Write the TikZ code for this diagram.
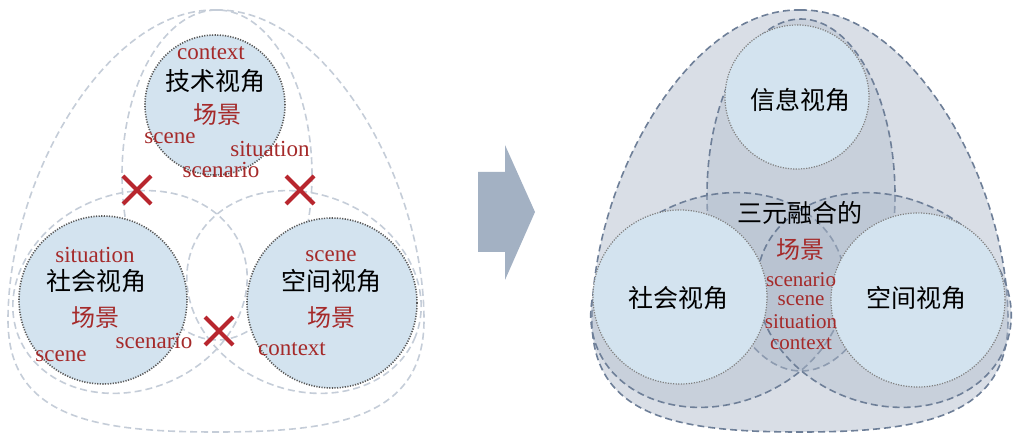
\documentclass[tikz,border=0pt]{standalone}
\usepackage{fontspec}
\setmainfont{Liberation Serif}
\newfontfamily\cjk{Noto Sans CJK SC}
\usetikzlibrary{positioning,calc}
\definecolor{circfill}{HTML}{D3E3EF}
\definecolor{dashgray}{HTML}{C5CDD8}
\definecolor{dashblue}{HTML}{6E7F98}
\definecolor{lensfill}{HTML}{B4BFCE}
\definecolor{blobfill}{HTML}{D9DEE6}
\definecolor{wordred}{HTML}{A52A2A}
\definecolor{crossred}{HTML}{B8262E}
\definecolor{arrowfill}{HTML}{A3B1C3}
\tikzset{
  view/.style={circle,fill=circfill,draw=black!65,line width=1.6pt,dash pattern=on 1.2pt off 1.4pt},
  ring/.style={draw=dashgray,line width=1.6pt,dash pattern=on 7pt off 4pt},
  darkring/.style={draw=dashblue,line width=1.6pt,dash pattern=on 7pt off 4pt,fill=lensfill,fill opacity=0.45,draw opacity=1},
  zh/.style={font=\cjk\fontsize{25}{27}\selectfont,inner sep=0pt},
  en/.style={font=\fontsize{23}{24}\selectfont,text=wordred,inner sep=0pt},
  stack/.style={font=\fontsize{21}{22}\selectfont,text=wordred,inner sep=0pt},
  zhred/.style={font=\cjk\fontsize{24}{26}\selectfont,text=wordred,inner sep=0pt},
}
\newcommand{\blobpath}{(0,10) .. controls (110,8) and (208,180) .. (208,320) .. controls (208,418) and (120,432) .. (0,432) .. controls (-120,432) and (-208,418) .. (-208,320) .. controls (-208,180) and (-110,8) .. (0,10) -- cycle}
\newcommand{\cross}[1]{\draw[crossred,line width=4pt] ($(#1)+(-14,-14)$) -- ($(#1)+(14,14)$) ($(#1)+(-14,14)$) -- ($(#1)+(14,-14)$);}
\begin{document}
\begin{tikzpicture}[x=1pt,y=1pt,yscale=-1]
\useasboundingbox (0,0) rectangle (1017,438);

%left panel
\begin{scope}[shift={(216,0)}]
\draw[ring] \blobpath;
\end{scope}
\draw[ring] (217,175) ellipse [x radius=95,y radius=165];
\draw[ring,rotate around={-22:(130,292)}] (130,292) ellipse [x radius=120,y radius=98];
\draw[ring,rotate around={22:(304,292)}] (304,292) ellipse [x radius=120,y radius=98];
\node[view,minimum size=140] (tech) at (215,105) {};
\node[view,minimum size=168] (social) at (103,300) {};
\node[view,minimum size=170] (space) at (332,303) {};

\node[en] (tctx) at (211,53) {context};
\node[zh] (tlab) at (215,81) {技术视角};
\node[zhred] (tscn) at (217,115) {场景};
\node[en] (tscene) at (170,138) {scene};
\node[en] (tsit) at (270,149) {situation};
\node[en] (tscen) at (221,170) {scenario};
\node[en] (ssit) at (95,255) {situation};
\node[zh] (slab) at (96,281) {社会视角};
\node[zhred] (sscn) at (95,318) {场景};
\node[en] (sscen) at (154,341) {scenario};
\node[en] (sscene) at (61,356) {scene};
\node[en] (pscene) at (331,256) {scene};
\node[zh] (plab) at (331,281) {空间视角};
\node[zhred] (pscn) at (331,318) {场景};
\node[en] (pctx) at (292,349) {context};

\coordinate (x1) at (137,190);
\coordinate (x2) at (300,190);
\coordinate (x3) at (219,331);
\cross{x1} \cross{x2} \cross{x3}

%arrow
\fill[arrowfill] (478,172) -- (505,172) -- (505,145) -- (535,212) -- (505,280) -- (505,252) -- (478,252) -- cycle;

%right panel
\begin{scope}[shift={(800,0)}]
\draw[dashblue,line width=1.6pt,dash pattern=on 7pt off 4pt,fill=blobfill] \blobpath;
\end{scope}
\draw[darkring] (801,195) ellipse [x radius=94,y radius=176];
\draw[darkring,rotate around={-20:(718,300)}] (718,300) ellipse [x radius=130,y radius=104];
\draw[darkring,rotate around={20:(884,300)}] (884,300) ellipse [x radius=130,y radius=104];
\node[view,draw=black!50,line width=1.2pt,minimum size=144] (info) at (797,97) {};
\node[view,draw=black!50,line width=1.2pt,minimum size=174] (rsoc) at (680,297) {};
\node[view,draw=black!50,line width=1.2pt,minimum size=174] (rspa) at (918,300) {};

\node[zh] (ilab) at (800,100) {信息视角};
\node[zh] (slab2) at (678,298) {社会视角};
\node[zh] (plab2) at (916,298) {空间视角};
\node[zh] (fuse) at (800,213) {三元融合的};
\node[zhred] (fscn) at (800,250) {场景};
\node[stack] (fscen) at (801,280) {scenario};
\node[stack] (fscene) at (801,301) {scene};
\node[stack] (fsit) at (801,322) {situation};
\node[stack] (fctx) at (801,344) {context};
\end{tikzpicture}
\end{document}
